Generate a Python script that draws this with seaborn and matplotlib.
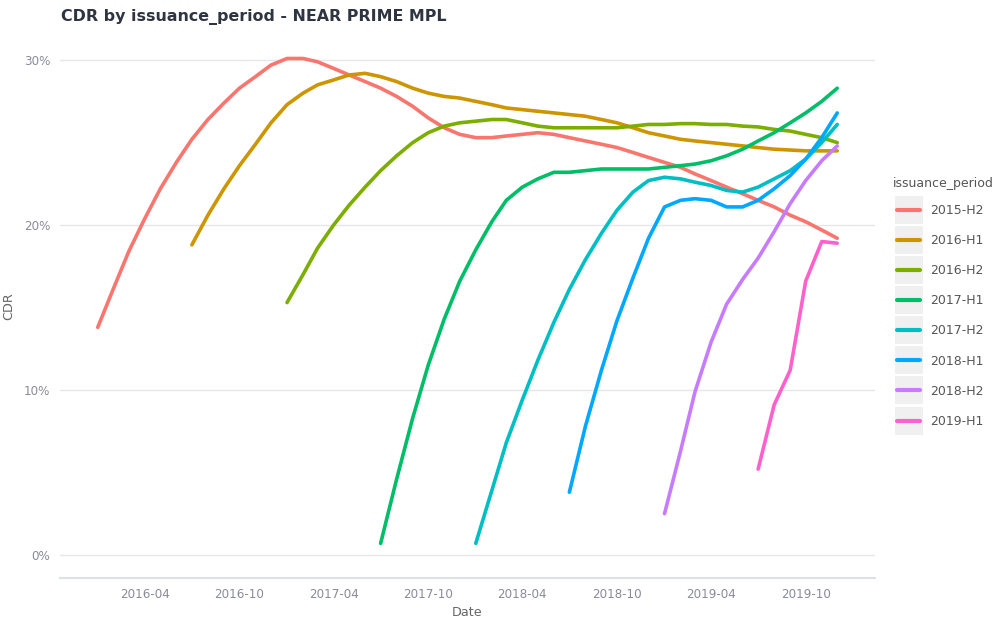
import matplotlib
matplotlib.use("Agg")
import matplotlib.pyplot as plt
import matplotlib.dates as mdates
from matplotlib.lines import Line2D
from matplotlib.legend_handler import HandlerTuple
from matplotlib.ticker import PercentFormatter
import pandas as pd
import seaborn as sns

# CDR (%) by month, one list per issuance period
periods = ["2015-H2", "2016-H1", "2016-H2", "2017-H1",
           "2017-H2", "2018-H1", "2018-H2", "2019-H1"]
first_month = ["2016-01", "2016-07", "2017-01", "2017-07",
               "2018-01", "2018-07", "2019-01", "2019-07"]

cdr_2015_h2 = [13.8, 16.2, 18.4, 20.4, 22.2, 23.8, 25.2, 26.4, 27.4, 28.3, 29.0, 29.7,
               30.1, 30.1, 29.9, 29.5, 29.1, 28.7, 28.3, 27.8, 27.2, 26.5, 25.9, 25.5,
               25.3, 25.3, 25.4, 25.5, 25.6, 25.5, 25.3, 25.1, 24.9, 24.7, 24.4, 24.1,
               23.8, 23.5, 23.1, 22.7, 22.3, 21.9, 21.5, 21.1, 20.6, 20.2, 19.7, 19.2]
cdr_2016_h1 = [18.8, 20.6, 22.2, 23.6, 24.9, 26.2,
               27.3, 28.0, 28.5, 28.8, 29.1, 29.2, 29.0, 28.7, 28.3, 28.0, 27.8, 27.7,
               27.5, 27.3, 27.1, 27.0, 26.9, 26.8, 26.7, 26.6, 26.4, 26.2, 25.9, 25.6,
               25.4, 25.2, 25.1, 25.0, 24.9, 24.8, 24.7, 24.6, 24.55, 24.5, 24.5, 24.5]
cdr_2016_h2 = [15.3, 17.0, 18.6, 20.0, 21.2, 22.3, 23.3, 24.2, 25.0, 25.6, 26.0, 26.2,
               26.3, 26.4, 26.4, 26.2, 26.0, 25.9, 25.9, 25.9, 25.9, 25.9, 26.0, 26.1,
               26.1, 26.15, 26.15, 26.1, 26.1, 26.0, 25.95, 25.8, 25.7, 25.5, 25.3, 25.0]
cdr_2017_h1 = [0.7, 4.6, 8.3, 11.5, 14.3, 16.6,
               18.5, 20.2, 21.5, 22.3, 22.8, 23.2, 23.2, 23.3, 23.4, 23.4, 23.4, 23.4,
               23.5, 23.6, 23.7, 23.9, 24.2, 24.6, 25.1, 25.6, 26.2, 26.8, 27.5, 28.3]
cdr_2017_h2 = [0.7, 3.9, 6.8, 9.4, 11.8, 14.1, 16.1, 17.9, 19.5, 20.9, 22.0, 22.7,
               22.9, 22.8, 22.6, 22.4, 22.1, 22.0, 22.3, 22.8, 23.3, 24.0, 25.0, 26.1]
cdr_2018_h1 = [3.8, 7.8, 11.2, 14.2, 16.8, 19.2,
               21.1, 21.5, 21.6, 21.5, 21.1, 21.1, 21.5, 22.2, 23.0, 24.0, 25.3, 26.8]
cdr_2018_h2 = [2.5, 6.3, 9.9, 12.9, 15.2, 16.7, 18.0, 19.6, 21.3, 22.7, 23.9, 24.8]
cdr_2019_h1 = [5.2, 9.1, 11.2, 16.6, 19.0, 18.9]

series = [cdr_2015_h2, cdr_2016_h1, cdr_2016_h2, cdr_2017_h1,
          cdr_2017_h2, cdr_2018_h1, cdr_2018_h2, cdr_2019_h1]

frames = []
for name, start, vals in zip(periods, first_month, series):
    dates = pd.date_range(start, periods=len(vals), freq="MS")
    frames.append(pd.DataFrame({"Date": dates, "CDR": vals, "issuance_period": name}))
df = pd.concat(frames, ignore_index=True)

colors = ["#F8766D", "#CD9600", "#7CAE00", "#00BE67",
          "#00BFC4", "#00A9FF", "#C77CFF", "#FF61CC"]

sns.set_style("white")
plt.rcParams["font.family"] = ["DejaVu Sans"]

fig = plt.figure(figsize=(10, 6.25), dpi=100)
ax = fig.add_axes([0.06, 0.0752, 0.815, 0.8708])

sns.lineplot(data=df, x="Date", y="CDR", hue="issuance_period",
             hue_order=periods, palette=colors, linewidth=2.6, ax=ax, legend=False)

ax.set_xlim(pd.Timestamp("2015-10-20"), pd.Timestamp("2020-02-12"))
ax.set_ylim(-1.4, 31.6)
ax.set_yticks([0, 10, 20, 30])
ax.yaxis.set_major_formatter(PercentFormatter(decimals=0))
ax.xaxis.set_major_locator(mdates.MonthLocator(bymonth=[4, 10]))
ax.xaxis.set_major_formatter(mdates.DateFormatter("%Y-%m"))

ax.grid(axis="y", color="#e6e6e6", linewidth=1.0)
ax.grid(axis="x", visible=False)
for side in ["top", "right", "left"]:
    ax.spines[side].set_visible(False)
ax.spines["bottom"].set_color("#dde1e6")
ax.spines["bottom"].set_linewidth(1.5)
ax.tick_params(axis="both", length=4, width=1.3, color="#222222",
               labelcolor="#8a8a99", labelsize=8.6, pad=3)

ax.set_xlabel("Date", color="#666666", fontsize=9.2, labelpad=4)
ax.set_ylabel("CDR", color="#666666", fontsize=9.2, labelpad=6)

fig.text(0.061, 0.986, "CDR by issuance_period - NEAR PRIME MPL", fontsize=11.4,
         fontweight="bold", color="#2e3440", ha="left", va="top")

# legend: grey square key with the coloured line on top
fig.text(0.893, 1 - 184 / 625, "issuance_period", fontsize=9, color="#555555",
         ha="left", va="center")
handles = [(Line2D([0], [0], linestyle="none", marker="s", markersize=20,
                   markerfacecolor="#f0f0f0", markeredgewidth=0),
            Line2D([0], [0], color=c, linewidth=3)) for c in colors]
leg = fig.legend(handles, periods, loc="upper left",
                 bbox_to_anchor=(0.892, 1 - 199 / 625), frameon=False, fontsize=9,
                 handlelength=1.85, numpoints=1, labelspacing=1.37,
                 handletextpad=0.8, borderaxespad=0,
                 handler_map={tuple: HandlerTuple(ndivide=1, pad=0)})
for t in leg.get_texts():
    t.set_color("#555555")

fig.savefig("out.png", dpi=100)
